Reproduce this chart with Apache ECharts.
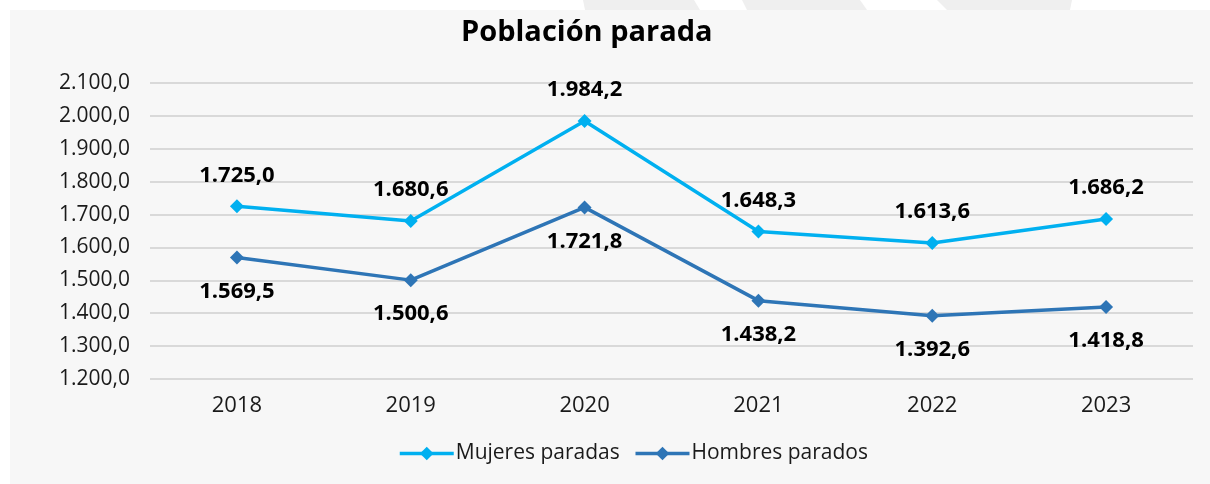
<!DOCTYPE html>
<html>
<head>
<meta charset="utf-8">
<script src="https://cdn.jsdelivr.net/npm/echarts@6/dist/echarts.min.js"></script>
<style>
  html, body { margin: 0; padding: 0; background: #fff; }
  #chart { width: 1210px; height: 484px; }
</style>
</head>
<body>
<div id="chart"></div>
<script>
const years = ['2018', '2019', '2020', '2021', '2022', '2023']
const mujeres = [1725.0, 1680.6, 1984.2, 1648.3, 1613.6, 1686.2]
const hombres = [1569.5, 1500.6, 1721.8, 1438.2, 1392.6, 1418.8]

// 1.234,5 style
function fmt(v) {
  const parts = v.toFixed(1).split('.')
  return parts[0].replace(/\B(?=(\d{3})+(?!\d))/g, '.') + ',' + parts[1]
}

const chart = echarts.init(document.getElementById('chart'))
const font = '"Open Sans", "Noto Sans", sans-serif'

const option = {
  backgroundColor: '#ffffff',
  textStyle: { fontFamily: font },
  graphic: [
    { type: 'rect', z: -20, silent: true, shape: { x: 10, y: 10, width: 1200, height: 474 }, style: { fill: '#f7f7f7' } },
    { type: 'polygon', z: -20, silent: true, shape: { points: [[583, 0], [694, 0], [700, 10], [585, 10]] }, style: { fill: '#efefef' } },
    { type: 'polygon', z: -20, silent: true, shape: { points: [[742, 0], [860, 0], [867, 10], [747, 10]] }, style: { fill: '#efefef' } },
    { type: 'polygon', z: -20, silent: true, shape: { points: [[937, 0], [1072, 0], [1070, 10], [947, 10]] }, style: { fill: '#efefef' } },
  ],
  title: {
    text: 'Población parada',
    left: 456,
    top: 13,
    textStyle: { fontSize: 29, fontWeight: 'bold', color: '#000', fontFamily: font },
  },
  legend: {
    bottom: 15,
    left: 393,
    itemWidth: 54,
    itemHeight: 17,
    itemGap: 14,
    lineStyle: { width: 3.5 },
    textStyle: { fontSize: 21, color: '#1a1a1a', padding: [0, 0, 0, -3] },
    data: ['Mujeres paradas', 'Hombres parados'],
  },
  grid: { left: 150, right: 17, top: 83, bottom: 105, containLabel: false },
  xAxis: {
    type: 'category',
    data: years,
    axisLine: { show: false },
    axisTick: { show: false },
    axisLabel: { fontSize: 22, color: '#1a1a1a', margin: 16 },
  },
  yAxis: {
    type: 'value',
    min: 1200,
    max: 2100,
    interval: 100,
    axisLine: { show: false },
    axisTick: { show: false },
    axisLabel: { fontSize: 21, color: '#1a1a1a', margin: 20, formatter: fmt },
    splitLine: { lineStyle: { color: '#d9d9d9', width: 2 } },
  },
  series: [
    {
      name: 'Mujeres paradas',
      type: 'line',
      data: mujeres,
      symbol: 'diamond',
      symbolSize: 14,
      color: '#00b0f0',
      lineStyle: { width: 3.5 },
      label: {
        show: true,
        position: 'top',
        distance: 13,
        fontSize: 22,
        fontWeight: 'bold',
        color: '#000',
        formatter: p => fmt(p.value),
      },
    },
    {
      name: 'Hombres parados',
      type: 'line',
      data: hombres,
      symbol: 'diamond',
      symbolSize: 14,
      color: '#2e75b6',
      lineStyle: { width: 3.5 },
      label: {
        show: true,
        position: 'bottom',
        distance: 16,
        fontSize: 22,
        fontWeight: 'bold',
        color: '#000',
        formatter: p => fmt(p.value),
      },
    },
  ],
}
chart.setOption(option)
</script>
</body>
</html>
